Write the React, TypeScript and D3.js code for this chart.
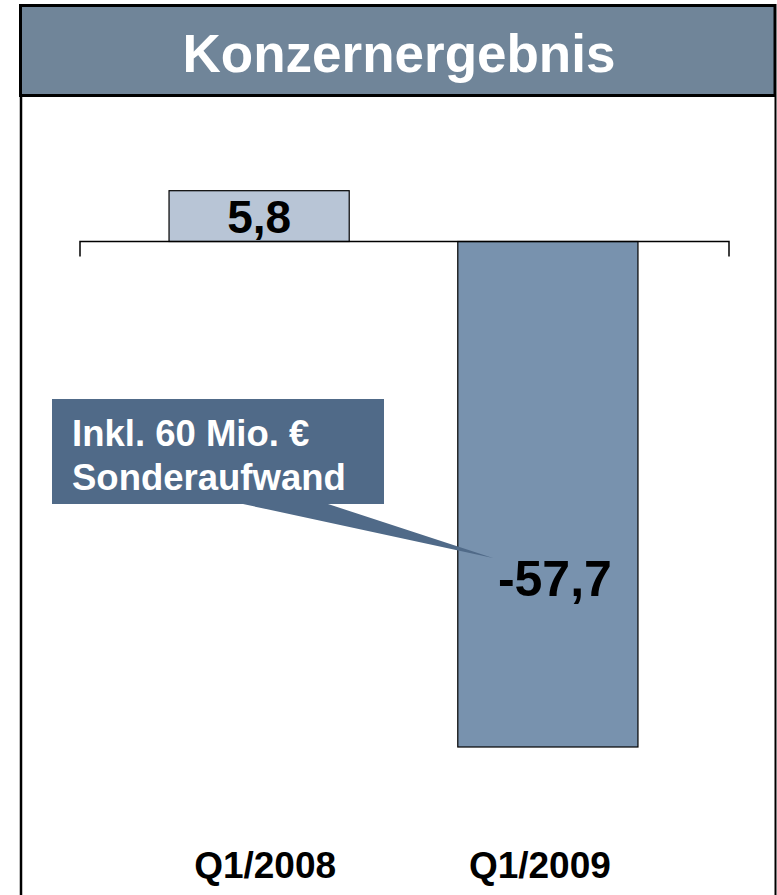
import React from "react";
import * as d3 from "d3";

const title = "Konzernergebnis";
const categories = ["Q1/2008", "Q1/2009"];
const values = [5.8, -57.7];
const valueLabels = ["5,8", "-57,7"];
const calloutLines = ["Inkl. 60 Mio. €", "Sonderaufwand"];

const W = 777;
const H = 895;
const FONT = "'Liberation Sans', Arial, Helvetica, sans-serif";

export default function App() {
  const x = d3
    .scaleBand<string>()
    .domain(categories)
    .range([114.75, 692.25])
    .paddingInner(0.376)
    .paddingOuter(0.188);
  const y = d3.scaleLinear().domain([-57.7, 5.8]).range([747, 190.7]);
  const y0 = y(0);
  const bw = x.bandwidth();
  const fills = ["#b8c5d6", "#7892ae"];

  // callout geometry
  const bx = 52, by = 399, bwid = 332, bht = 105;
  const tip: [number, number] = [493, 558];

  return (
    <svg
      width={W}
      height={H}
      style={{ position: "absolute", left: 0, top: 0, display: "block" }}
      fontFamily={FONT}
    >
      <rect x={0} y={0} width={W} height={H} fill="#ffffff" />
      {/* header */}
      <rect x={20.5} y={5.5} width={754.5} height={90} fill="#708599" stroke="#000" strokeWidth={3} />
      <text x={399} y={72} textAnchor="middle" fill="#fff" fontWeight="bold" fontSize={53}>
        {title}
      </text>
      {/* body frame sides */}
      <line x1={21} x2={21} y1={97} y2={H} stroke="#000" strokeWidth={2.5} />
      <line x1={775.5} x2={775.5} y1={97} y2={H} stroke="#000" strokeWidth={2} />

      {/* bars */}
      {categories.map((c, i) => {
        const v = values[i];
        const top = Math.min(y(v), y0);
        const h = Math.abs(y(v) - y0);
        return (
          <rect
            key={c}
            x={x(c)}
            y={top}
            width={bw}
            height={h}
            fill={fills[i]}
            stroke="#000"
            strokeWidth={1.2}
          />
        );
      })}

      {/* axis */}
      <path
        d={`M80,256.5V${y0}H729V256.5`}
        fill="none"
        stroke="#000"
        strokeWidth={1.5}
      />

      {/* value labels */}
      <text
        x={(x(categories[0]) as number) + bw / 2}
        y={233}
        textAnchor="middle"
        fontWeight="bold"
        fontSize={46}
        fill="#000"
      >
        {valueLabels[0]}
      </text>
      <text
        x={(x(categories[1]) as number) + bw / 2 + 7}
        y={596}
        textAnchor="middle"
        fontWeight="bold"
        fontSize={50}
        fill="#000"
      >
        {valueLabels[1]}
      </text>

      {/* callout */}
      <path
        d={`M${bx},${by}H${bx + bwid}V${by + bht}H328L${tip[0]},${tip[1]}L243,${by + bht}H${bx}Z`}
        fill="#506a88"
      />
      {calloutLines.map((t, i) => (
        <text
          key={i}
          x={72}
          y={446 + i * 44}
          fill="#fff"
          fontWeight="bold"
          fontSize={36.5}
        >
          {t}
        </text>
      ))}

      {/* category labels */}
      {categories.map((c, i) => (
        <text
          key={c}
          x={(x(c) as number) + bw / 2 + (i === 0 ? 6 : -8)}
          y={878}
          textAnchor="middle"
          fontWeight="bold"
          fontSize={37}
          fill="#000"
        >
          {c}
        </text>
      ))}
    </svg>
  );
}
